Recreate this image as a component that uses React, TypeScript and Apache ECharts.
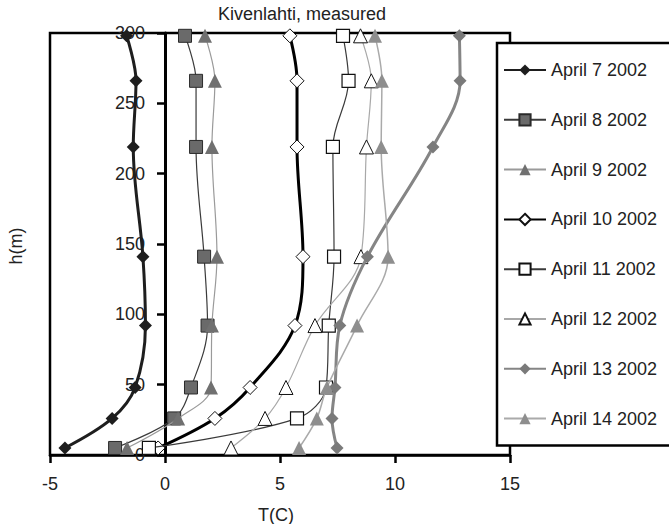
import React, { useEffect, useRef } from "react";
import * as echarts from "echarts";

const heights = [5, 26, 48, 92, 141, 219, 266, 298];
const seriesNames = [
  "April 7 2002",
  "April 8 2002",
  "April 9 2002",
  "April 10 2002",
  "April 11 2002",
  "April 12 2002",
  "April 13 2002",
  "April 14 2002",
];
const april7 = [-4.35, -2.3, -1.3, -0.85, -0.96, -1.38, -1.26, -1.67];
const april8 = [-2.17, 0.4, 1.13, 1.85, 1.7, 1.35, 1.35, 0.87];
const april9 = [-1.65, 0.57, 2.0, 2.04, 2.26, 2.04, 2.17, 1.74];
const april10 = [-0.3, 2.17, 3.7, 5.65, 6.0, 5.74, 5.74, 5.43];
const april11 = [-0.7, 5.74, 7.0, 7.12, 7.35, 7.3, 7.98, 7.74];
const april12 = [2.87, 4.35, 5.26, 6.52, 8.52, 8.76, 8.97, 8.5];
const april13 = [7.48, 7.26, 7.39, 7.6, 8.8, 11.65, 12.83, 12.8];
const april14 = [5.83, 6.6, 7.04, 8.35, 9.7, 9.4, 9.43, 9.13];
const xTicks = [-5, 0, 5, 10, 15];
const yTicks = [0, 50, 100, 150, 200, 250, 300];

const FONT = "'Liberation Sans', Arial, sans-serif";

type Style = {
  lineColor: string;
  lineWidth: number;
  symbol: string;
  symbolSize: number;
  fill: string;
  border: string;
  borderWidth: number;
};

const styles: Style[] = [
  { lineColor: "#1e1e1e", lineWidth: 3, symbol: "diamond", symbolSize: 13, fill: "#1e1e1e", border: "#1e1e1e", borderWidth: 0 },
  { lineColor: "#3a3a3a", lineWidth: 1.2, symbol: "rect", symbolSize: 13, fill: "#6a6a6a", border: "#2a2a2a", borderWidth: 1 },
  { lineColor: "#9a9a9a", lineWidth: 1.2, symbol: "triangle", symbolSize: 14, fill: "#707070", border: "#707070", borderWidth: 0 },
  { lineColor: "#000000", lineWidth: 3, symbol: "diamond", symbolSize: 14, fill: "#ffffff", border: "#111111", borderWidth: 1 },
  { lineColor: "#3a3a3a", lineWidth: 1.2, symbol: "rect", symbolSize: 13, fill: "#ffffff", border: "#111111", borderWidth: 1.2 },
  { lineColor: "#a8a8a8", lineWidth: 1.2, symbol: "triangle", symbolSize: 14, fill: "#ffffff", border: "#111111", borderWidth: 1 },
  { lineColor: "#858585", lineWidth: 3, symbol: "diamond", symbolSize: 13, fill: "#7a7a7a", border: "#7a7a7a", borderWidth: 0 },
  { lineColor: "#aaaaaa", lineWidth: 1.5, symbol: "triangle", symbolSize: 14, fill: "#8e8e8e", border: "#8e8e8e", borderWidth: 0 },
];

const allValues = [april7, april8, april9, april10, april11, april12, april13, april14];

export default function App() {
  const ref = useRef<HTMLDivElement>(null);
  useEffect(() => {
    if (!ref.current) return;
    const chart = echarts.init(ref.current, undefined, { renderer: "svg" });
    const series = allValues.map((vals, i) => {
      const s = styles[i];
      return {
        name: seriesNames[i],
        type: "line",
        smooth: 0.35,
        clip: false,
        data: vals.map((t, j) => [t, heights[j]]),
        symbol: s.symbol,
        symbolSize: s.symbolSize,
        showAllSymbol: true,
        lineStyle: { color: s.lineColor, width: s.lineWidth },
        itemStyle: { color: s.fill, borderColor: s.border, borderWidth: s.borderWidth },
        z: 3 + i,
      };
    });
    chart.setOption({
      animation: false,
      backgroundColor: "#ffffff",
      textStyle: { fontFamily: FONT },
      grid: {
        left: 50,
        top: 33,
        width: 460,
        height: 422,
        show: true,
        borderColor: "#000",
        borderWidth: 2.5,
        backgroundColor: "transparent",
      },
      xAxis: {
        type: "value",
        min: xTicks[0],
        max: xTicks[xTicks.length - 1],
        interval: 5,
        axisLine: { show: true, onZero: false, lineStyle: { color: "#000", width: 2.5 } },
        axisTick: { show: true, length: 8, lineStyle: { color: "#000", width: 2.5 } },
        axisLabel: { color: "#222", fontSize: 18, margin: 20, fontFamily: FONT },
        splitLine: { show: false },
      },
      yAxis: {
        type: "value",
        position: "left",
        offset: -115,
        min: yTicks[0],
        max: yTicks[yTicks.length - 1],
        interval: 50,
        axisLine: { show: true, onZero: false, lineStyle: { color: "#000", width: 3 } },
        axisTick: { show: true, length: 8, lineStyle: { color: "#000", width: 2.5 } },
        axisLabel: { color: "#222", fontSize: 18, margin: 20, fontFamily: FONT },
        splitLine: { show: false },
      },
      legend: {
        orient: "vertical",
        left: 497,
        top: 43,
        padding: [18, 40, 18, 6],
        itemWidth: 42,
        itemHeight: 14,
        itemGap: 31.8,
        backgroundColor: "#ffffff",
        borderColor: "#000",
        borderWidth: 2.5,
        borderRadius: 0,
        textStyle: { fontSize: 18, color: "#222", fontFamily: FONT },
        data: seriesNames,
        z: 20,
      },
      graphic: [
        {
          type: "text",
          left: 218,
          top: 5,
          style: { text: "Kivenlahti, measured", fontSize: 18, fill: "#222", fontFamily: FONT },
        },
        {
          type: "text",
          x: 276,
          y: 515,
          style: { text: "T(C)", fontSize: 18, fill: "#222", fontFamily: FONT, textAlign: "center", textVerticalAlign: "middle" },
        },
        {
          type: "text",
          x: 16,
          y: 246,
          rotation: Math.PI / 2,
          style: { text: "h(m)", fontSize: 18, fill: "#222", fontFamily: FONT, textAlign: "center", textVerticalAlign: "middle" },
        },
      ],
      series,
    });
    return () => chart.dispose();
  }, []);
  return <div ref={ref} style={{ width: 669, height: 524, position: "absolute", left: 0, top: 0 }} />;
}
